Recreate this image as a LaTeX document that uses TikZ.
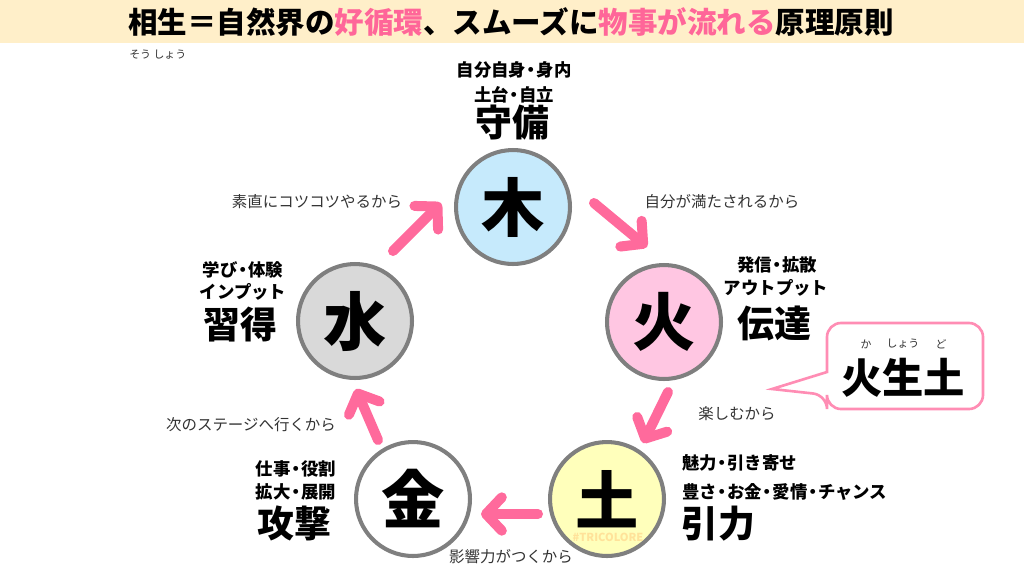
\documentclass[tikz,border=0pt]{standalone}
\usepackage{fontspec}
\setmainfont{Noto Sans CJK JP}
\usetikzlibrary{arrows.meta}
\definecolor{bandyellow}{HTML}{FFEFC9}
\definecolor{titlepink}{HTML}{FF6699}
\definecolor{flowpink}{HTML}{FF6A9C}
\definecolor{calloutpink}{HTML}{FF8DB4}
\definecolor{ringgray}{HTML}{7F7F7F}
\definecolor{labelgray}{HTML}{333333}
\definecolor{mokublue}{HTML}{C6EAFC}
\definecolor{hipink}{HTML}{FFC6E2}
\definecolor{doyellow}{HTML}{FFFFBB}
\definecolor{suigray}{HTML}{D9D9D9}
\definecolor{markyellow}{HTML}{FFE29A}
\newcommand\ndot{\makebox[0.6em]{・}}
\begin{document}
\begin{tikzpicture}[x=0.02cm, y=-0.02cm,
    element/.style={circle, draw=ringgray, line width=2.3pt, minimum size=2.28cm, inner sep=0pt, font=\bfseries\fontsize{36}{40}\selectfont},
    flow/.style={-{Straight Barb[length=9pt, width=19pt, round]}, line width=5.7pt, draw=flowpink, line cap=round},
    reason/.style={font=\fontsize{8.8}{10}\selectfont, text=labelgray, inner sep=0pt},
    trait/.style={font=\bfseries\fontsize{9.9}{11}\selectfont, inner sep=0pt},
    role/.style={font=\bfseries\fontsize{21}{24}\selectfont, inner sep=0pt},
    ruby/.style={font=\fontsize{6.2}{7}\selectfont, text=labelgray, inner sep=0pt}
]
\useasboundingbox (0,0) rectangle (1024,586);

% title band
\fill[bandyellow] (0,0) rectangle (1024,43);
\node[font=\bfseries\fontsize{16.8}{19}\selectfont, inner sep=0pt] (title) at (511,22) {相生＝自然界の\textcolor{titlepink}{好循環}、スムーズに\textcolor{titlepink}{物事が流れる}原理原則};
\node[ruby, anchor=west] (titleRuby) at (129,55) {そう しょう};

% five elements
\node[element, fill=mokublue] (moku) at (513,207) {木};
\node[element, fill=hipink] (hi) at (664,322) {火};
\node[element, fill=doyellow] (do) at (607,499) {土};
\node[element, fill=white] (kin) at (413,499) {金};
\node[element, fill=suigray] (sui) at (355,321) {水};
\node[font=\bfseries\fontsize{6.3}{8}\selectfont, text=markyellow, inner sep=0pt] (mark) at (608,537) {\#TRICOLORE};

% traits
\node[trait] (mokuA) at (514,70) {自分自身\ndot 身内};
\node[trait] (mokuB) at (514,95) {土台\ndot 自立};
\node[role] (mokuR) at (512,123) {守備};

\node[trait] (hiA) at (777,265) {発信\ndot 拡散};
\node[trait] (hiB) at (776,288) {アウトプット};
\node[role] (hiR) at (774,323) {伝達};

\node[trait, anchor=west] (doA) at (682,463) {魅力\ndot 引き寄せ};
\node[trait, anchor=west] (doB) at (682,492) {豊さ\ndot お金\ndot 愛情\ndot チャンス};
\node[role, anchor=west] (doR) at (681,524) {引力};

\node[trait] (kinA) at (296,469) {仕事\ndot 役割};
\node[trait] (kinB) at (296,492) {拡大\ndot 展開};
\node[role] (kinR) at (294,523) {攻撃};

\node[trait] (suiA) at (243,270) {学び\ndot 体験};
\node[trait] (suiB) at (243,292) {インプット};
\node[role] (suiR) at (240,325) {習得};

% cycle arrows
\coordinate (mokuOut) at (594,203);
\coordinate (hiIn) at (647,247);
\coordinate (hiOut) at (668,392);
\coordinate (doIn) at (643,443);
\coordinate (doOut) at (538,514);
\coordinate (kinIn) at (481,514);
\coordinate (kinOut) at (378,440);
\coordinate (suiIn) at (356,389);
\coordinate (suiOut) at (393,251);
\coordinate (mokuIn) at (441,203);
\draw[flow] (mokuOut) -- (hiIn);
\draw[flow] (hiOut) -- (doIn);
\draw[flow] (doOut) -- (kinIn);
\draw[flow] (kinOut) -- (suiIn);
\draw[flow] (suiOut) -- (mokuIn);

\node[reason] (r1) at (722,202) {自分が満たされるから};
\node[reason] (r2) at (737,414) {楽しむから};
\node[reason] (r3) at (511,557) {影響力がつくから};
\node[reason] (r4) at (251,425) {次のステージへ行くから};
\node[reason] (r5) at (317,202) {素直にコツコツやるから};

% callout
\draw[line width=1.5pt, draw=calloutpink, fill=white, rounded corners=8pt] (827,372) -- (827,323) -- (983,323) -- (983,409) -- (827,409) -- (827,395) [sharp corners] -- (772,389) -- cycle;
\node[font=\bfseries\fontsize{23.5}{26}\selectfont, inner sep=0pt] (rule) at (903,378) {火生土};
\node[ruby] (rubyKa) at (866,344) {か};
\node[ruby] (rubySho) at (903,344) {しょう};
\node[ruby] (rubyDo) at (941,344) {ど};
\end{tikzpicture}
\end{document}
